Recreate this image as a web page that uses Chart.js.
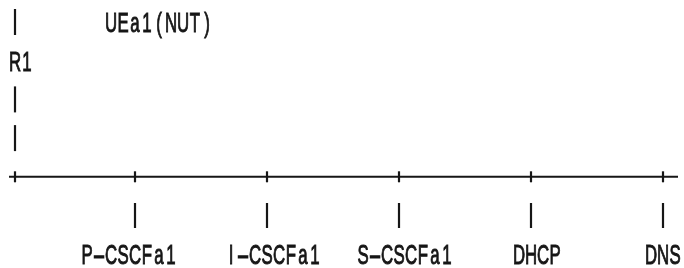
<!DOCTYPE html>
<html>
<head>
<meta charset="utf-8">
<script src="https://cdn.jsdelivr.net/npm/chart.js@4"></script>
<style>
  html, body { margin: 0; padding: 0; background: #fff; }
  #wrap { width: 684px; height: 268px; position: relative; }
</style>
</head>
<body>
<div id="wrap"><canvas id="diagram"></canvas></div>
<script>
// text-grid diagram: columns are character cells, rows are text lines
const nodes = ['P-CSCFa1', 'I-CSCFa1', 'S-CSCFa1', 'DHCP', 'DNS'];
const nodeCols = [10, 21, 32, 43, 54];      // where each node taps the bus
const labelCols = [6, 18, 29, 42, 53];      // first character of each label
const busCols = [-0.5, 55.25];              // bus start / end
const routerCol = 0;
const routerLabel = 'R1';
const routerRows = [0, 2, 3];               // '|' rows above the bus
const routerLabelRow = 1;
const terminalLabel = 'UEa1(NUT)';
const terminalCol = 8;
const busRow = 4, dropRow = 5, labelRow = 6;

const ink = '#161616';

const textPlugin = {
  id: 'gridText',
  afterDatasetsDraw(chart) {
    const {ctx, scales: {x, y}} = chart;
    const put = (txt, col, row) => {
      for (let i = 0; i < txt.length; i++) {
        const ch = txt[i];
        ctx.save();
        ctx.translate(x.getPixelForValue(col + i), y.getPixelForValue(row) + 10);
        ctx.scale(ch === '-' ? 1.35 : 0.6, 1);
        ctx.fillText(ch, 0, 0);
        ctx.strokeText(ch, 0, 0);
        ctx.restore();
      }
    };
    ctx.save();
    ctx.font = '28px "Liberation Sans", Arial, sans-serif';
    ctx.fillStyle = ink;
    ctx.strokeStyle = ink;
    ctx.lineWidth = 1;
    ctx.textAlign = 'center';
    ctx.textBaseline = 'alphabetic';
    put(terminalLabel, terminalCol, 0);
    put(routerLabel, routerCol, routerLabelRow);
    nodes.forEach((n, i) => put(n, labelCols[i], labelRow));
    ctx.restore();
  }
};

const pipe = (pts, radius) => ({
  data: pts,
  showLine: false,
  pointStyle: 'line',
  rotation: 90,
  pointRadius: radius,
  pointBorderWidth: 2.2,
  pointBorderColor: ink,
  pointBackgroundColor: ink
});

new Chart(document.getElementById('diagram'), {
  type: 'scatter',
  data: {
    datasets: [
      {
        data: busCols.map(c => ({x: c, y: busRow})),
        showLine: true,
        borderColor: ink,
        borderWidth: 2,
        pointRadius: 0
      },
      pipe([routerCol, ...nodeCols].map(c => ({x: c, y: busRow})), 5.5),
      pipe(nodeCols.map(c => ({x: c, y: dropRow})), 12.5),
      pipe(routerRows.map(r => ({x: routerCol, y: r})), 13)
    ]
  },
  options: {
    responsive: true,
    maintainAspectRatio: false,
    animation: false,
    layout: {padding: 0, autoPadding: false},
    plugins: {legend: {display: false}, tooltip: {enabled: false}},
    scales: {
      x: {type: 'linear', display: false, min: -1.25, max: 55.75},
      y: {type: 'linear', display: false, reverse: true, min: -0.5685, max: 6.3566}
    }
  },
  plugins: [textPlugin]
});
</script>
</body>
</html>
